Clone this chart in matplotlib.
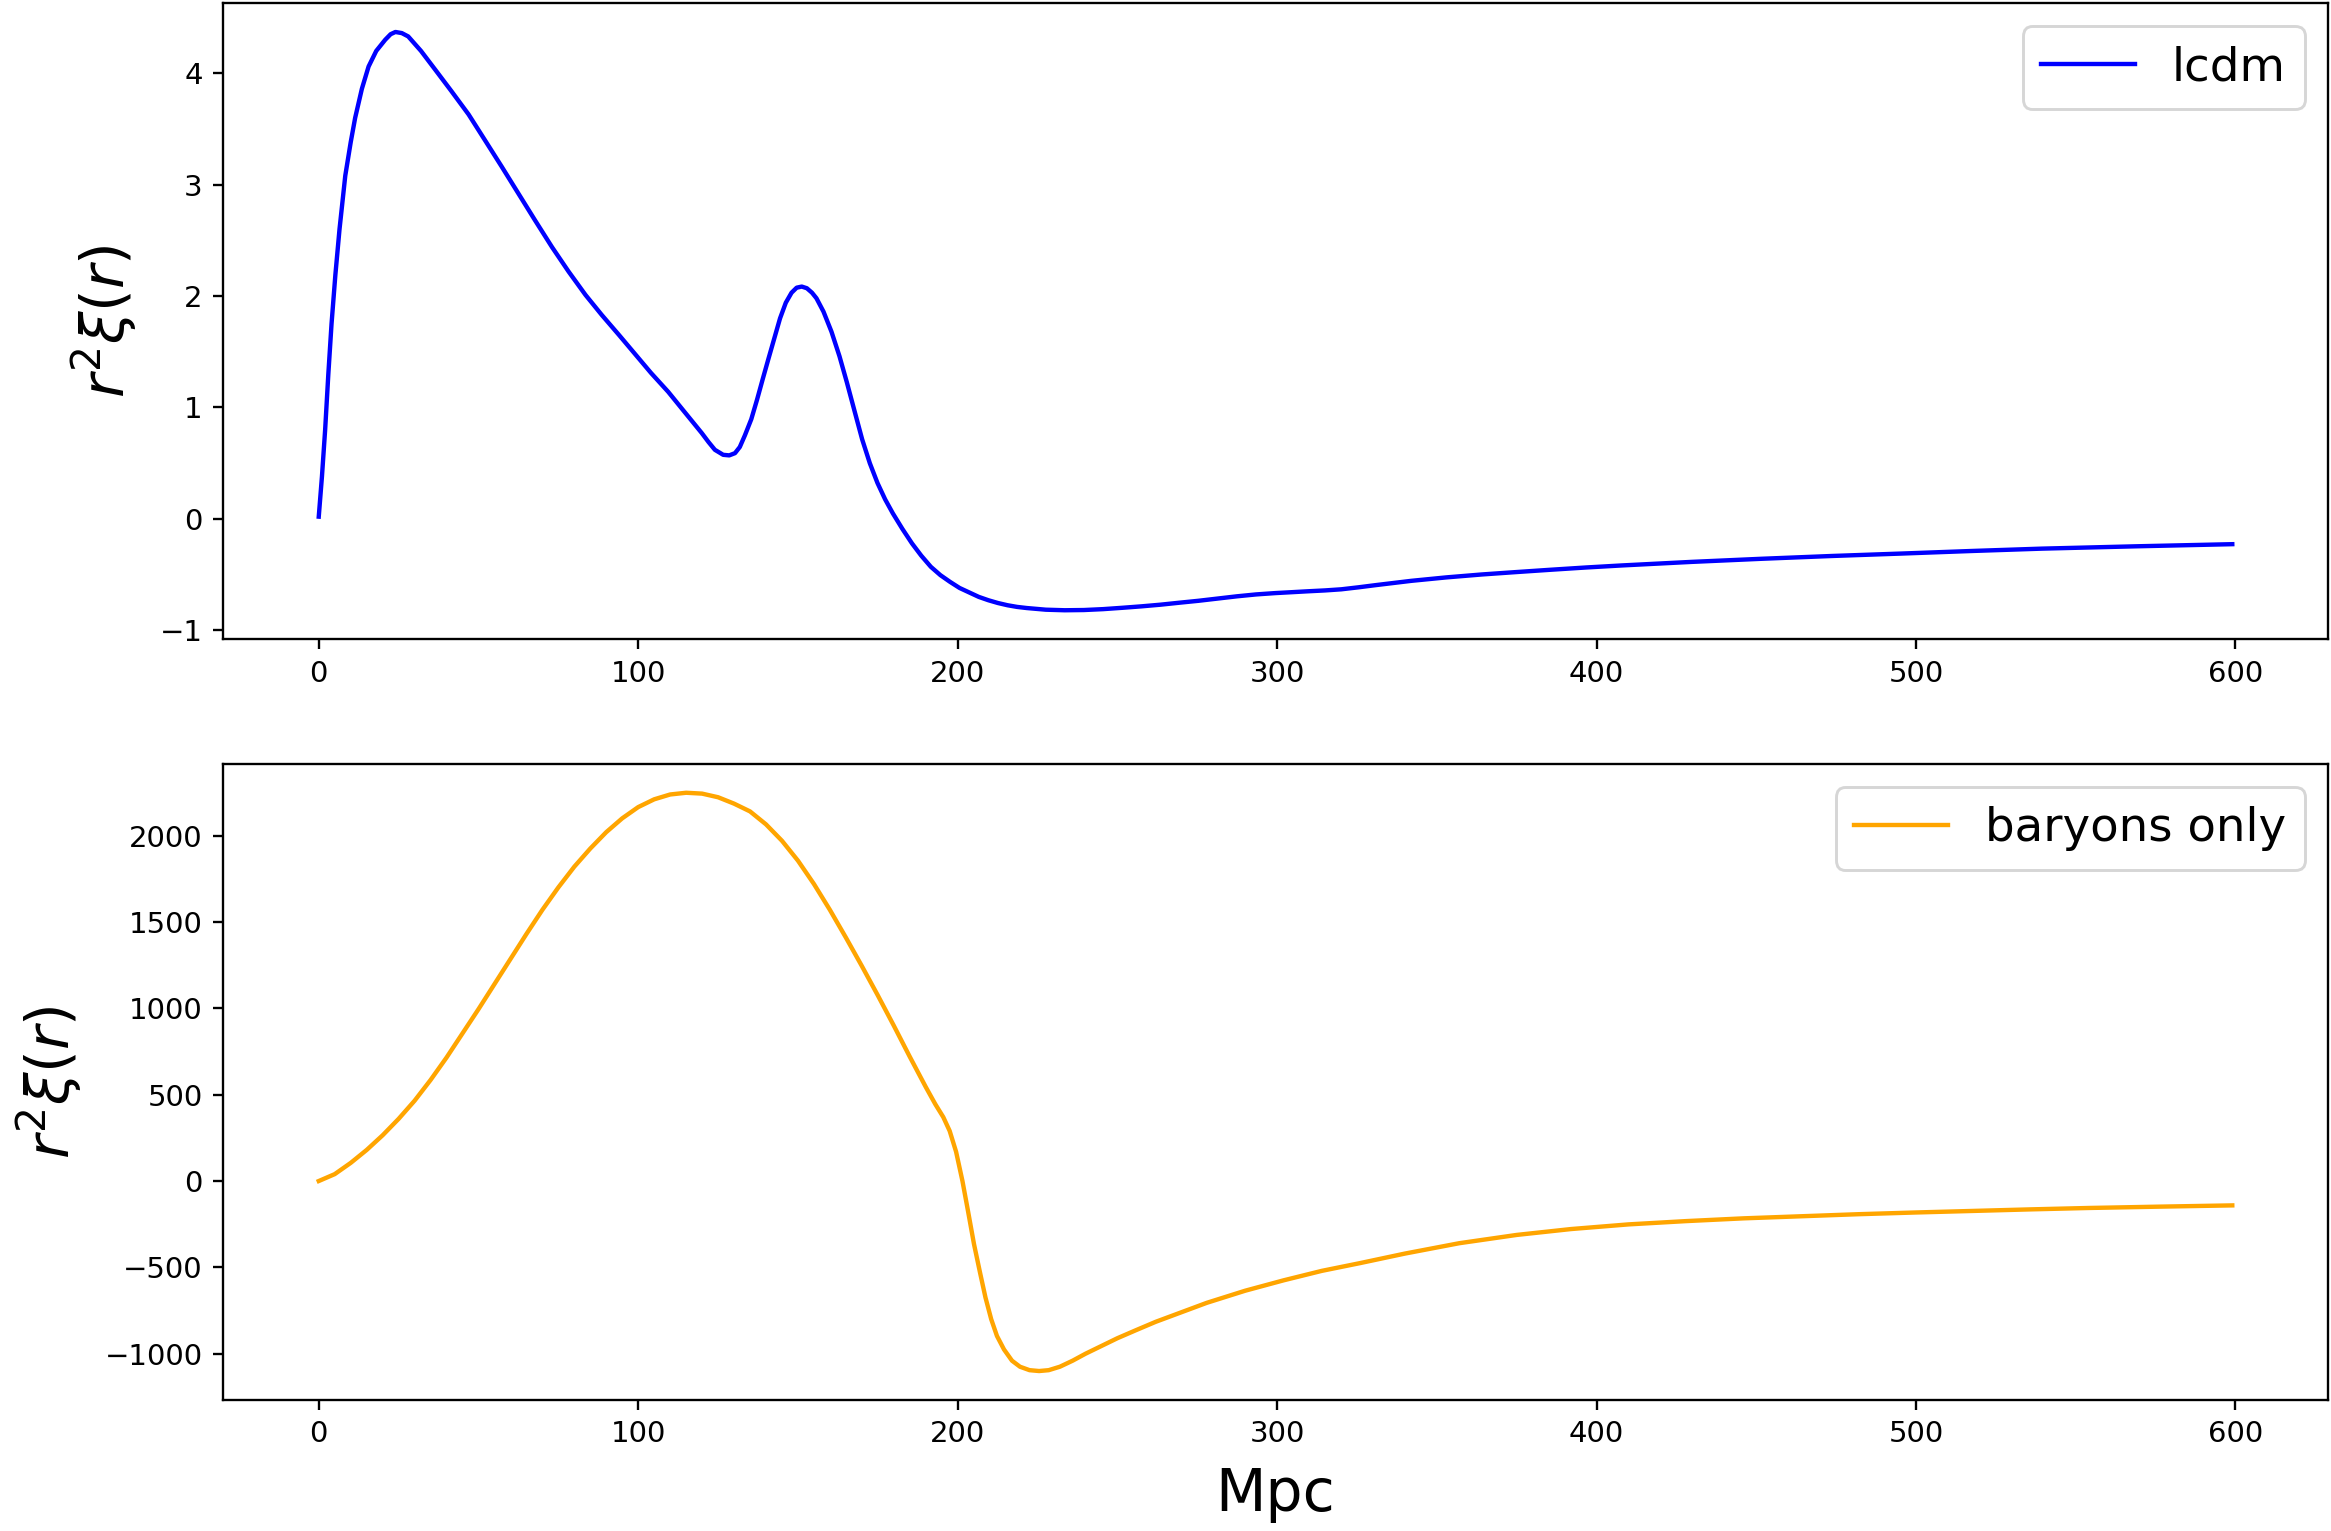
#!/usr/bin/env python3
"""
r^2 xi(r) for the LCDM model and for a baryons-only model, read off the original figure.

Output:
  - out.png
"""

import matplotlib

matplotlib.use("Agg")
import matplotlib.pyplot as plt


# LCDM curve (r in Mpc, r^2 xi(r))
LCDM_R = [
    0, 1.0, 2.0, 3.0, 4.0, 5.2, 6.5, 8.3, 10, 11.4, 13.5, 15.6, 18, 20.8, 22.5, 24, 26, 28,
    32, 36.5, 41.5, 46.9, 52, 57.3, 62.5, 67.7, 73, 78.2, 83.5, 88.6, 94, 99.0, 104,
    109.4, 114.5, 119.9, 122, 124, 126.6, 128.5, 130.3, 131.8, 133.4, 135.4, 137.2,
    139, 140.8, 142.6, 144.4, 146.2, 148, 149.6, 151.2, 152.8, 154.4, 155.8, 158,
    160.5, 163, 165.3, 167.7, 170.1, 172.5, 174.9, 177.3, 179.7, 182.7, 185.7, 188.6,
    191.6, 194.6, 197.6, 200.6, 203.6, 206.6, 209.6, 212.6, 215.6, 218.6, 221.6,
    227.6, 233.5, 239.5, 245.5, 251.5, 257.5, 263.5, 269.5, 275.4, 281.4, 287.4,
    293.4, 299.4, 304.5, 309.5, 315, 320.1, 325.5, 331, 336.5, 342, 353, 364, 375,
    385.9, 396.8, 407.8, 429.7, 451.7, 473.6, 495.6, 517.5, 539.4, 569, 599,
]
LCDM_XI = [
    0.02, 0.38, 0.80, 1.30, 1.75, 2.19, 2.60, 3.08, 3.38, 3.60, 3.86, 4.06, 4.20, 4.30, 4.35, 4.37, 4.36, 4.33,
    4.20, 4.03, 3.84, 3.63, 3.40, 3.16, 2.92, 2.68, 2.44, 2.22, 2.01, 1.83, 1.65, 1.48, 1.31,
    1.14, 0.96, 0.77, 0.69, 0.62, 0.575, 0.57, 0.59, 0.645, 0.75, 0.895, 1.07,
    1.257, 1.44, 1.62, 1.80, 1.94, 2.03, 2.075, 2.085, 2.07, 2.03, 1.98, 1.86,
    1.68, 1.46, 1.227, 0.97, 0.714, 0.50, 0.322, 0.175, 0.05, -0.09, -0.22, -0.33,
    -0.43, -0.505, -0.565, -0.62, -0.66, -0.70, -0.73, -0.755, -0.775, -0.79, -0.80,
    -0.815, -0.82, -0.818, -0.81, -0.798, -0.785, -0.77, -0.752, -0.735, -0.715, -0.695,
    -0.678, -0.666, -0.658, -0.65, -0.642, -0.632, -0.614, -0.594, -0.575, -0.556, -0.525, -0.499, -0.477,
    -0.456, -0.436, -0.418, -0.386, -0.358, -0.333, -0.311, -0.288, -0.267, -0.246, -0.227,
]

# baryons-only curve
BARYON_R = [
    0, 5, 10, 15, 20, 25, 30, 35, 40, 45, 50, 55, 60, 65, 70, 75, 80, 85, 90, 95,
    100, 105, 110, 115, 120, 125, 130, 135, 140, 145, 150, 155, 160, 165, 170, 175,
    180, 185, 190, 193, 195.5, 197.5, 199.5, 201.5, 203.3, 205.1, 207, 208.7, 210.5,
    212.3, 214.5, 217, 219.5, 222.5, 225.5, 228.5, 232, 236, 240, 245, 250, 256, 262,
    270, 278, 290, 302, 314, 326, 340, 357, 375, 392, 410, 428, 446, 464, 482, 500,
    518, 536, 554, 577, 599,
]
BARYON_XI = [
    0, 40, 105, 180, 265, 360, 465, 585, 715, 855, 995, 1140, 1285, 1430, 1570, 1700, 1820, 1925, 2020, 2100,
    2165, 2210, 2238, 2248, 2243, 2222, 2185, 2140, 2065, 1970, 1855, 1720, 1570, 1410, 1245, 1075,
    900, 720, 545, 445, 370, 290, 170, 0, -180, -364, -530, -674, -800,
    -897, -975, -1040, -1075, -1095, -1100, -1095, -1075, -1040, -1000, -955, -910, -862, -815,
    -760, -705, -635, -575, -520, -475, -420, -360, -312, -278, -251, -232, -216, -204, -192, -182,
    -173, -164, -156, -148, -141,
]

YLABEL = r"$r^2\xi(r)$"
XLABEL = "Mpc"


def main() -> None:
    dpi = 210
    fig, (ax_top, ax_bot) = plt.subplots(2, 1, figsize=(2331 / dpi, 1531 / dpi), dpi=dpi)
    fig.subplots_adjust(left=0.0957, right=0.9987, top=0.998, bottom=0.0856, hspace=0.196)

    ax_top.plot(LCDM_R, LCDM_XI, color="blue", label="lcdm")
    ax_top.set_ylabel(YLABEL, fontsize=20, labelpad=7)
    ax_top.legend(loc="upper right", fontsize=16)

    ax_bot.plot(BARYON_R, BARYON_XI, color="orange", label="baryons only")
    ax_bot.set_ylabel(YLABEL, fontsize=20, labelpad=7)
    ax_bot.set_xlabel(XLABEL, fontsize=20, labelpad=6)
    ax_bot.legend(loc="upper right", fontsize=16)

    fig.savefig("out.png", dpi=dpi)


if __name__ == "__main__":
    main()
